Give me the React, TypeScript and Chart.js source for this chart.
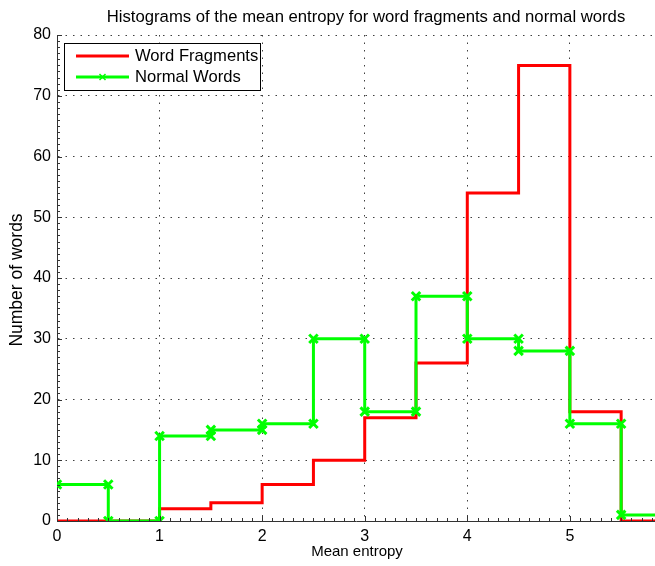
import React, { useEffect, useRef } from "react";
import { Chart, registerables } from "chart.js";

Chart.register(...registerables);

const binEdges = [0, 0.5, 1, 1.5, 2, 2.5, 3, 3.5, 4, 4.5, 5, 5.5];
const binWidth = 0.5;
const wordFragments = [0, 0, 2, 3, 6, 10, 17, 26, 54, 75, 18, 0];
const normalWords = [6, 0, 14, 15, 16, 30, 18, 37, 30, 28, 16, 1];
const xTicks = [0, 1, 2, 3, 4, 5];
const yTicks = [0, 10, 20, 30, 40, 50, 60, 70, 80];

const titleText = "Histograms of the mean entropy for word fragments and normal words";
const xLabel = "Mean entropy";
const yLabel = "Number of words";
const seriesNames = ["Word Fragments", "Normal Words"];

const FONT = '"Liberation Sans", Arial, Helvetica, sans-serif';

function stairs(values: number[]) {
  const pts: { x: number; y: number }[] = [];
  values.forEach((v, i) => {
    pts.push({ x: binEdges[i], y: v });
    pts.push({ x: binEdges[i] + binWidth, y: v });
  });
  return pts;
}

function drawCross(ctx: CanvasRenderingContext2D, x: number, y: number, r: number) {
  ctx.beginPath();
  ctx.moveTo(x - r, y - r);
  ctx.lineTo(x + r, y + r);
  ctx.moveTo(x - r, y + r);
  ctx.lineTo(x + r, y - r);
  ctx.stroke();
}

const decorPlugin = {
  id: "decor",
  afterDraw(chart: any) {
    const ctx: CanvasRenderingContext2D = chart.ctx;
    const { left, right, bottom } = chart.chartArea;
    const xs = chart.scales.x;
    const ys = chart.scales.y;
    ctx.save();
    // inward ticks
    ctx.strokeStyle = "#333";
    ctx.lineWidth = 1;
    ctx.beginPath();
    for (let v = 0; v <= 80; v += 1) {
      const y = Math.round(ys.getPixelForValue(v)) + 0.5;
      const len = v % 10 === 0 ? 5 : 3;
      ctx.moveTo(left, y);
      ctx.lineTo(left + len, y);
    }
    for (let k = 0; k <= 58; k += 1) {
      const v = k / 10;
      const x = Math.round(xs.getPixelForValue(v)) + 0.5;
      if (x > right) break;
      const len = k % 10 === 0 ? 5 : 3;
      ctx.moveTo(x, bottom);
      ctx.lineTo(x, bottom - len);
    }
    ctx.stroke();

    // title
    ctx.fillStyle = "#000";
    ctx.textBaseline = "middle";
    ctx.textAlign = "center";
    ctx.font = `16.7px ${FONT}`;
    ctx.fillText(titleText, 366, 17);

    // axis labels
    ctx.font = `15px ${FONT}`;
    ctx.fillText(xLabel, 357, 552);
    ctx.save();
    ctx.translate(17, 280);
    ctx.rotate(-Math.PI / 2);
    ctx.font = `17.5px ${FONT}`;
    ctx.fillText(yLabel, 0, 0);
    ctx.restore();

    // legend
    ctx.fillStyle = "#fff";
    ctx.fillRect(64.5, 43.5, 196, 47);
    ctx.strokeStyle = "#000";
    ctx.lineWidth = 1;
    ctx.strokeRect(64.5, 43.5, 196, 47);
    ctx.lineWidth = 3;
    ctx.strokeStyle = "#ff0000";
    ctx.beginPath();
    ctx.moveTo(76, 56);
    ctx.lineTo(129, 56);
    ctx.stroke();
    ctx.strokeStyle = "#00ff00";
    ctx.beginPath();
    ctx.moveTo(76, 77);
    ctx.lineTo(129, 77);
    ctx.stroke();
    ctx.lineWidth = 1.5;
    drawCross(ctx, 102.5, 77, 3);
    ctx.fillStyle = "#000";
    ctx.textAlign = "left";
    ctx.font = `16.6px ${FONT}`;
    ctx.fillText(seriesNames[0], 135, 56);
    ctx.fillText(seriesNames[1], 135, 77);
    ctx.restore();
  },
};

export default function App() {
  const ref = useRef<HTMLCanvasElement | null>(null);
  useEffect(() => {
    if (!ref.current) return;
    const chart = new Chart(ref.current, {
      type: "line",
      data: {
        datasets: [
          {
            label: seriesNames[1],
            data: stairs(normalWords),
            borderColor: "#00ff00",
            backgroundColor: "#00ff00",
            borderWidth: 3,
            pointStyle: "crossRot",
            pointRadius: 6,
            pointBorderWidth: 3,
            pointBorderColor: "#00ff00",
            fill: false,
            tension: 0,
            order: 0,
          },
          {
            label: seriesNames[0],
            data: stairs(wordFragments),
            borderColor: "#ff0000",
            backgroundColor: "#ff0000",
            borderWidth: 3,
            pointRadius: 0,
            fill: false,
            tension: 0,
            order: 1,
          },
        ],
      },
      options: {
        responsive: false,
        animation: false,
        events: [],
        layout: { autoPadding: false, padding: { top: 35, right: 0, left: 0, bottom: 0 } },
        plugins: {
          legend: { display: false },
          title: { display: false },
          tooltip: { enabled: false },
        },
        scales: {
          x: {
            type: "linear",
            min: 0,
            max: 5.83,
            afterFit: (s: any) => {
              s.height = 45;
              s.paddingLeft = 0;
              s.paddingRight = 0;
            },
            afterBuildTicks: (s: any) => {
              s.ticks = xTicks.map((v) => ({ value: v }));
            },
            ticks: {
              includeBounds: false,
              stepSize: 1,
              padding: 6,
              color: "#000",
              font: { family: FONT, size: 16 },
              maxRotation: 0,
            },
            grid: {
              drawTicks: false,
              color: "rgba(0,0,0,0.75)",
              lineWidth: 1,
            },
            border: { display: true, color: "#333", width: 1, dash: [1.5, 6] } as any,
          },
          y: {
            type: "linear",
            min: 0,
            max: 80,
            afterFit: (s: any) => {
              s.width = 57;
              s.paddingTop = 0;
              s.paddingBottom = 0;
            },
            afterBuildTicks: (s: any) => {
              s.ticks = yTicks.map((v) => ({ value: v }));
            },
            ticks: {
              stepSize: 10,
              padding: 6,
              color: "#000",
              font: { family: FONT, size: 16 },
            },
            grid: {
              drawTicks: false,
              color: "rgba(0,0,0,0.75)",
              lineWidth: 1,
            },
            border: { display: true, color: "#333", width: 1, dash: [1.5, 6] } as any,
          },
        },
      },
      plugins: [decorPlugin],
    } as any);
    return () => chart.destroy();
  }, []);
  return (
    <div style={{ position: "absolute", left: 0, top: 0, width: 655, height: 566, background: "#fff" }}>
      <canvas ref={ref} width={655} height={566} style={{ width: 655, height: 566, display: "block" }} />
    </div>
  );
}
